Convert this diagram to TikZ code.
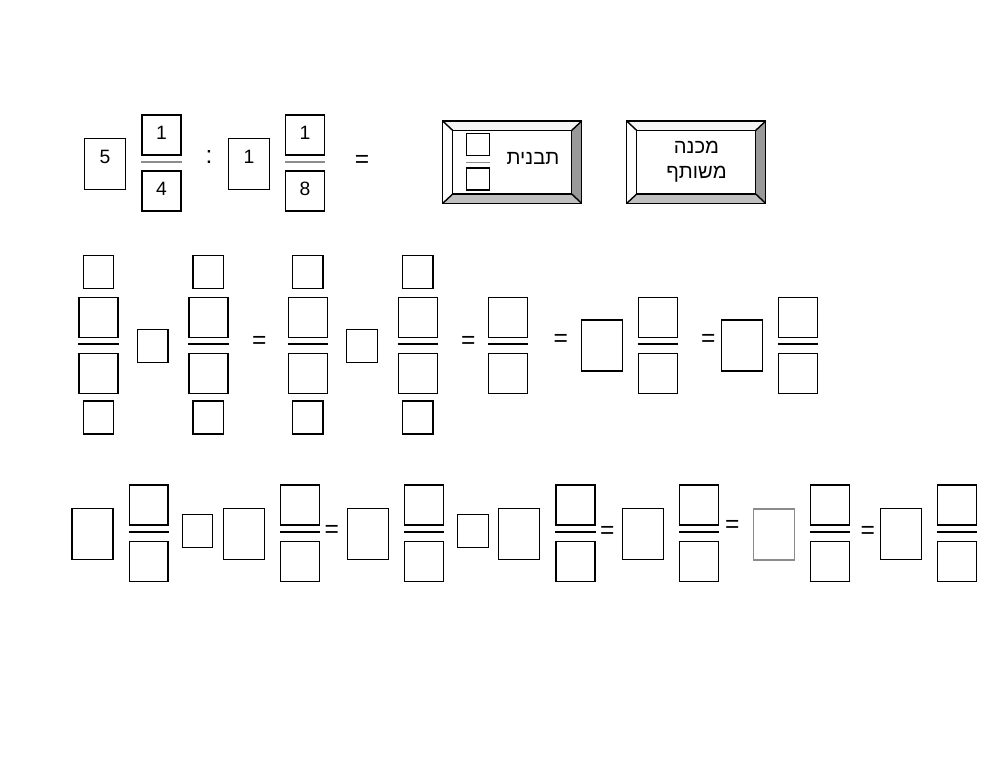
\documentclass[tikz,border=0pt]{standalone}
\usepackage{fontspec}
\setmainfont{Liberation Sans}
\newfontfamily\hebfont[Script=Hebrew]{Liberation Sans}
\TeXXeTstate=1

\begin{document}
\begin{tikzpicture}[x=0.02cm,y=-0.02cm,line width=0.8pt,
   font=\fontsize{11}{13}\selectfont,
   box/.style={draw,rectangle,inner sep=0pt},
   wholebox/.style={box,minimum width=0.82cm,minimum height=1.02cm},
   fracbox/.style={box,minimum width=0.78cm,minimum height=0.8cm},
   smallbox/.style={box,minimum width=0.61cm,minimum height=0.66cm},
   fracline/.style={line width=1pt},
   eqsign/.style={inner sep=0pt,font=\fontsize{14}{16}\selectfont},
   button/.style={rectangle,inner sep=0pt,minimum width=2.754cm,minimum height=1.62cm},
   buttonin/.style={rectangle,inner sep=0pt,minimum width=2.354cm,minimum height=1.246cm},
   hebtext/.style={align=center,font=\hebfont\fontsize{11.5}{14.2}\selectfont}]
   \useasboundingbox (0,0) rectangle (1000,772);

   % first line: the exercise
   \node[wholebox,text depth=0.3cm] (w1) at (105,164) {5};
   \node[fracbox,text depth=0.1cm] (n1) at (161.5,135) {1};
   \node[fracbox,text depth=0.1cm] (d1) at (161.5,191) {4};
   \node[eqsign] (colon) at (209,157) {:};
   \node[wholebox,text depth=0.3cm] (w2) at (249,164) {1};
   \node[fracbox,text depth=0.1cm] (n2) at (305,135) {1};
   \node[fracbox,text depth=0.1cm] (d2) at (305,191) {8};
   \node[eqsign] (eq0) at (362,161) {=};
   \foreach \f in {n1,n2}
      \draw[fracline,black!45] ([yshift=-0.12cm]\f.south west) -- ([yshift=-0.12cm]\f.south east);

   % the two buttons
   \node[button] (b1) at (512.2,162.2) {};
   \node[buttonin] (b1i) at (512.2,162.2) {};
   \node[button] (b2) at (696.2,162.2) {};
   \node[buttonin] (b2i) at (696.2,162.2) {};
   \foreach \btn in {b1,b2} {
      \fill[black!4] (\btn.north west) -- (\btn.north east) -- (\btn i.north east) -- (\btn i.north west) -- cycle;
      \fill[black!40] (\btn.north east) -- (\btn.south east) -- (\btn i.south east) -- (\btn i.north east) -- cycle;
      \fill[black!25] (\btn.south west) -- (\btn.south east) -- (\btn i.south east) -- (\btn i.south west) -- cycle;
      \draw (\btn.north west) rectangle (\btn.south east);
      \draw (\btn i.north west) rectangle (\btn i.south east);
      \draw (\btn.north west) -- (\btn i.north west)
            (\btn.north east) -- (\btn i.north east)
            (\btn.south west) -- (\btn i.south west)
            (\btn.south east) -- (\btn i.south east);
   }
   \node[box,minimum width=0.45cm,minimum height=0.44cm] (pt) at (478,144.2) {};
   \node[box,minimum width=0.45cm,minimum height=0.44cm] (pb) at (478,178.8) {};
   \draw[fracline,black!45] ([yshift=-0.13cm]pt.south west) -- ([yshift=-0.13cm]pt.south east);
   \node[hebtext] (tavnit) at (533,158) {\beginR תבנית\endR};
   \node[hebtext] (mekhane) at (696.5,162) {\beginR מכנה\endR\\\beginR משותף\endR};

   % second line: with extension boxes
   \foreach \n/\x in {a/98.5,b/208.3,c/307.8,d/417.7} {
      \node[smallbox] (\n top) at (\x,271.7) {};
      \node[fracbox] (\n num) at (\x,317.3) {};
      \node[fracbox] (\n den) at (\x,373.3) {};
      \node[smallbox] (\n bot) at (\x,417.5) {};
      \draw[fracline] ([yshift=-0.12cm]\n num.south west) -- ([yshift=-0.12cm]\n num.south east);
   }
   \foreach \n/\x in {e/508,f/657.8,g/797.8} {
      \node[fracbox] (\n num) at (\x,317.3) {};
      \node[fracbox] (\n den) at (\x,373.3) {};
      \draw[fracline] ([yshift=-0.12cm]\n num.south west) -- ([yshift=-0.12cm]\n num.south east);
   }
   \node[smallbox] (op1) at (152.8,346) {};
   \node[smallbox] (op2) at (362,346) {};
   \node[wholebox] (wf) at (601.7,345.5) {};
   \node[wholebox] (wg) at (742,345.5) {};
   \foreach \n/\x/\y in {eq1/259.3/342.3,eq2/468.3/342,eq3/560.7/340,eq4/708.3/340}
      \node[eqsign] (\n) at (\x,\y) {=};

   % third line: mixed numbers
   \foreach \n/\x in {p/148.7,q/300.2,r/423.8,s/575.5,t/699.2,u/830,v/956.7} {
      \node[fracbox] (\n num) at (\x,505) {};
      \node[fracbox] (\n den) at (\x,561.5) {};
      \draw[fracline] ([yshift=-0.12cm]\n num.south west) -- ([yshift=-0.12cm]\n num.south east);
   }
   \foreach \n/\x in {wp/92.5,wq/243.8,wr/367.8,ws/518.8,wt/642.8,wv/900.8}
      \node[wholebox] (\n) at (\x,533.8) {};
   \node[wholebox,draw=black!45] (wu) at (773.8,534.5) {};
   \node[smallbox] (op3) at (197.5,530.7) {};
   \node[smallbox] (op4) at (473,530.7) {};
   \foreach \n/\x/\y in {eq5/331.7/531.7,eq6/607.3/532.3,eq7/732.3/526.7,eq8/867.7/532}
      \node[eqsign] (\n) at (\x,\y) {=};
\end{tikzpicture}
\end{document}
